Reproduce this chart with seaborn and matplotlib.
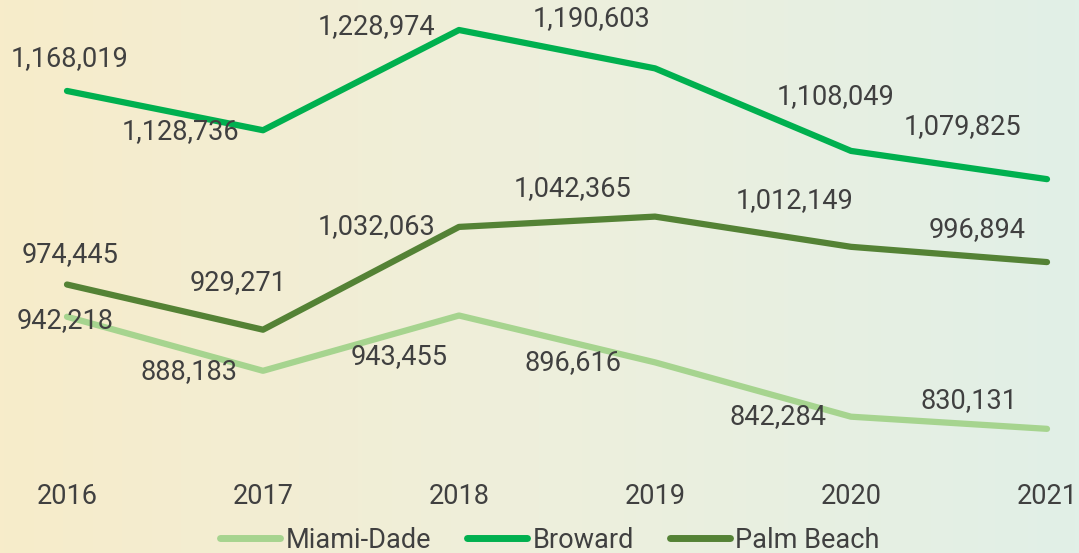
import numpy as np
import pandas as pd
import matplotlib
import matplotlib.pyplot as plt
import seaborn as sns
from matplotlib.colors import LinearSegmentedColormap

# Annual values for three South Florida counties

years = [2016, 2017, 2018, 2019, 2020, 2021]
miami_dade = [942218, 888183, 943455, 896616, 842284, 830131]
broward = [1168019, 1128736, 1228974, 1190603, 1108049, 1079825]
palm_beach = [974445, 929271, 1032063, 1042365, 1012149, 996894]
counties = ['Miami-Dade', 'Broward', 'Palm Beach']

colors = {'Miami-Dade': '#a6d48f', 'Broward': '#00b04f', 'Palm Beach': '#548235'}

# label offsets in pixels (dx, dy) for each point
offsets = {
    'Broward': [(3, 32), (-82, -1), (-82, 3), (-63, 50), (-15, 54), (-84, 53)],
    'Palm Beach': [(3, 30), (-25, 47), (-82, 0), (-82, 28), (-56, 46), (-70, 33)],
    'Miami-Dade': [(-2, -4), (-74, -1), (-60, -41), (-82, 0), (-73, 0), (-78, 28)],
}

df = pd.DataFrame({
    'year': years * 3,
    'value': miami_dade + broward + palm_beach,
    'county': [c for c in counties for _ in years],
})

sns.set_style('white')
plt.rcParams['font.family'] = ['Roboto', 'DejaVu Sans']
text_color = '#404040'
fs = 19.5

fig = plt.figure(figsize=(10.79, 5.53), dpi=100)

# gradient background
bg = fig.add_axes([0, 0, 1, 1], zorder=0)
cmap = LinearSegmentedColormap.from_list('bg', ['#f7ecca', '#eeefdc', '#e1f0e7'])
bg.imshow(np.linspace(0, 1, 256).reshape(1, -1), aspect='auto', cmap=cmap, extent=[0, 1, 0, 1])
bg.axis('off')

ax = fig.add_axes([0, 83 / 553, 1, 470 / 553], zorder=1)
ax.patch.set_alpha(0)
sns.lineplot(data=df, x='year', y='value', hue='county', hue_order=counties,
             palette=colors, linewidth=4.5, ax=ax, legend=False)

for c, vals in zip(counties, [miami_dade, broward, palm_beach]):
    for yr, v, (dx, dy) in zip(years, vals, offsets[c]):
        ax.annotate(f'{v:,}', (yr, v), xytext=(dx, dy), textcoords='offset pixels',
                    ha='center', va='center', fontsize=fs, color=text_color)

ax.set_xlim(2016 - 67 / 196, 2021 + 32 / 196)
ax.set_ylim(1228974 - 440000, 1228974 + 30000)
ax.set_xticks(years)
ax.set_xticklabels([str(y) for y in years], fontsize=fs, color=text_color)
ax.set_yticks([])
ax.tick_params(axis='x', length=0, pad=9)
ax.set_xlabel('')
ax.set_ylabel('')
for s in ax.spines.values():
    s.set_visible(False)

handles = [matplotlib.lines.Line2D([], [], color=colors[c], linewidth=5, solid_capstyle='round') for c in counties]
leg = fig.legend(handles, counties, loc='center', bbox_to_anchor=(550 / 1079, 13 / 553),
                 ncol=3, frameon=False, fontsize=fs, handlelength=2.2, handletextpad=0.2,
                 columnspacing=1.35, borderpad=0)
for t in leg.get_texts():
    t.set_color(text_color)

plt.savefig('out.png', dpi=100)
